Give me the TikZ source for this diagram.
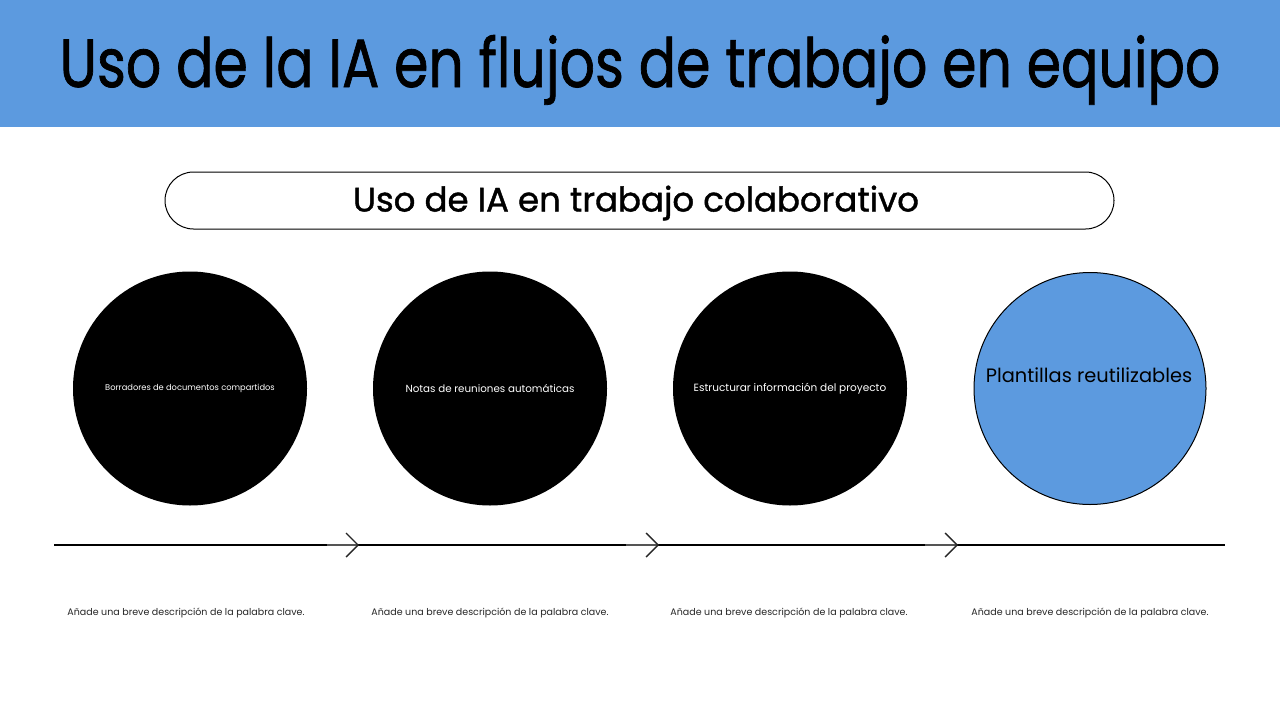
\documentclass[tikz,border=0pt]{standalone}
\usepackage{fontspec}
\setmainfont{Poppins}
\newfontfamily\medfont[FakeBold=1.2]{Poppins}
\usetikzlibrary{arrows.meta}
\definecolor{hdr}{HTML}{5C9ADF}
\definecolor{grayline}{HTML}{555555}
\tikzset{
  blackcirc/.style={circle,fill=black,minimum size=234pt,inner sep=0pt,text=white},
  bluecirc/.style={circle,fill=hdr,draw=black,line width=1pt,minimum size=232pt,inner sep=0pt},
  desc/.style={font=\fontsize{9.5}{11}\selectfont,text=black!85},
  chev/.style={draw=grayline,line width=1.4pt,-{Straight Barb[length=12pt,width=24pt,line width=1.4pt,color=black!85]}}
}
\begin{document}
\begin{tikzpicture}[x=1pt,y=-1pt]
\useasboundingbox (0,0) rectangle (1280,720);
\fill[white] (0,0) rectangle (1280,720);
\fill[hdr] (0,0) rectangle (1280,127);
\node[anchor=base,inner sep=0pt] (title) at (640,87) {\scalebox{0.814}[1]{\medfont\fontsize{68}{76}\selectfont Uso de la IA en flujos de trabajo en equipo}};
\node[draw=black,line width=1pt,rounded corners=28.5pt,minimum width=949pt,minimum height=57pt] (pill) at (639.5,200.5) {};
\node (subt) at (636,203) {\medfont\fontsize{34}{40}\selectfont Uso de IA en trabajo colaborativo};
\node[blackcirc,font=\fontsize{8.3}{10}\selectfont] (c1) at (190,388.5) {Borradores de documentos compartidos};
\node[blackcirc,font=\fontsize{10.3}{12}\selectfont] (c2) at (490,388.5) {Notas de reuniones automáticas};
\node[blackcirc,font=\fontsize{10.5}{12}\selectfont] (c3) at (790,388.5) {Estructurar información del proyecto};
\node[bluecirc] (c4) at (1090,388.5) {};
\node[font=\fontsize{19.4}{23}\selectfont] (t4) at (1089,375) {Plantillas reutilizables};
\coordinate (l0) at (54,545);
\coordinate (l1) at (1225,545);
\draw[line width=1.8pt] (l0) -- (l1);
\coordinate (a1s) at (327,545); \coordinate (a1e) at (359,545);
\coordinate (a2s) at (626,545); \coordinate (a2e) at (659,545);
\coordinate (a3s) at (925,545); \coordinate (a3e) at (958,545);
\draw[chev] (a1s) -- (a1e);
\draw[chev] (a2s) -- (a2e);
\draw[chev] (a3s) -- (a3e);
\node[desc] (d1) at (186,613) {Añade una breve descripción de la palabra clave.};
\node[desc] (d2) at (490,613) {Añade una breve descripción de la palabra clave.};
\node[desc] (d3) at (789,613) {Añade una breve descripción de la palabra clave.};
\node[desc] (d4) at (1090,613) {Añade una breve descripción de la palabra clave.};
\end{tikzpicture}
\end{document}
